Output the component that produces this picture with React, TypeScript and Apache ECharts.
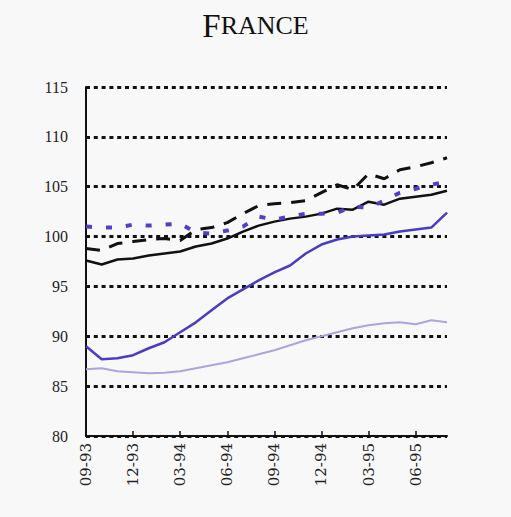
import React, { useEffect, useRef } from "react";
import * as echarts from "echarts";

const months = [
  "09-93", "10-93", "11-93", "12-93", "01-94", "02-94", "03-94", "04-94",
  "05-94", "06-94", "07-94", "08-94", "09-94", "10-94", "11-94", "12-94",
  "01-95", "02-95", "03-95", "04-95", "05-95", "06-95", "07-95", "08-95",
];

const blackSolid = [
  97.6, 97.2, 97.7, 97.8, 98.1, 98.3, 98.5, 99.0, 99.3, 99.8, 100.5, 101.1,
  101.5, 101.8, 102.0, 102.3, 102.8, 102.7, 103.5, 103.2, 103.8, 104.0, 104.2, 104.6,
];

const blackDashed = [
  98.8, 98.6, 99.3, 99.5, 99.7, 99.8, 99.6, 100.7, 100.9, 101.4, 102.3, 103.1,
  103.3, 103.4, 103.6, 104.4, 105.2, 104.7, 106.3, 105.8, 106.7, 107.0, 107.4, 107.9,
];

const blueDotted = [
  101.0, 100.9, 100.9, 101.2, 101.1, 101.2, 101.3, 100.4, 100.3, 100.6, 101.0, 102.0,
  101.7, 102.0, 102.3, 102.3, 102.4, 103.0, 102.9, 103.6, 104.4, 104.8, 105.2, 105.5,
];

const blueSolid = [
  89.0, 87.7, 87.8, 88.1, 88.8, 89.4, 90.4, 91.4, 92.6, 93.8, 94.7, 95.6,
  96.4, 97.1, 98.3, 99.2, 99.7, 100.0, 100.1, 100.2, 100.5, 100.7, 100.9, 102.4,
];

const lightLine = [
  86.7, 86.8, 86.5, 86.4, 86.3, 86.35, 86.5, 86.8, 87.1, 87.4, 87.8, 88.2,
  88.6, 89.1, 89.6, 90.0, 90.4, 90.8, 91.1, 91.3, 91.4, 91.2, 91.6, 91.4,
];

const titleBig = "F";
const titleSmall = "RANCE";

export default function App() {
  const ref = useRef<HTMLDivElement>(null);

  useEffect(() => {
    document.body.style.margin = "0";
    if (!ref.current) return;
    const chart = echarts.init(ref.current, undefined, { renderer: "svg" });
    const serif = "'Liberation Serif', 'DejaVu Serif', serif";
    const wideSerif = "'DejaVu Serif', 'Liberation Serif', serif";
    const line = (name: string, data: number[], color: string, width: number, type: any, z: number) => ({
      name,
      type: "line",
      data,
      symbol: "none",
      z,
      lineStyle: { color, width, type, cap: "butt" },
    });
    chart.setOption({
      animation: false,
      backgroundColor: "#f8f8f8",
      title: {
        text: `{big|${titleBig}}{small|${titleSmall}}`,
        left: "center",
        top: 4,
        textStyle: {
          rich: {
            big: { fontFamily: serif, fontSize: 33, color: "#111", fontWeight: "normal" },
            small: { fontFamily: serif, fontSize: 26, color: "#111", fontWeight: "normal" },
          },
        },
      },
      grid: { left: 86, right: 64, top: 87, bottom: 81, containLabel: false },
      xAxis: {
        type: "category",
        data: months,
        boundaryGap: false,
        axisLine: { lineStyle: { color: "#111", width: 2 } },
        axisTick: { interval: 2, inside: true, length: 5, lineStyle: { color: "#111", width: 1.5 } },
        axisLabel: {
          interval: 2,
          rotate: 90,
          fontFamily: wideSerif,
          fontSize: 15,
          color: "#222",
          margin: 7,
        },
        splitLine: { show: false },
      },
      yAxis: {
        type: "value",
        min: 80,
        max: 115,
        interval: 5,
        axisLine: { show: true, lineStyle: { color: "#111", width: 2 } },
        axisTick: { show: false },
        axisLabel: { fontFamily: serif, fontSize: 16, color: "#222", margin: 18 },
        splitLine: {
          show: true,
          lineStyle: { color: "#111", width: 3, type: [4, 3.8] },
        },
      },
      series: [
        line("light", lightLine, "#aaa6dc", 2, "solid", 2),
        line("blueSolid", blueSolid, "#4a3cc4", 2.5, "solid", 3),
        line("blackSolid", blackSolid, "#111", 2.5, "solid", 4),
        line("blueDotted", blueDotted, "#4e40c8", 4, [6, 14], 5),
        line("blackDashed", blackDashed, "#111", 3, [14, 10], 6),
      ],
    });
    return () => chart.dispose();
  }, []);

  return <div ref={ref} style={{ width: 511, height: 517 }} />;
}
